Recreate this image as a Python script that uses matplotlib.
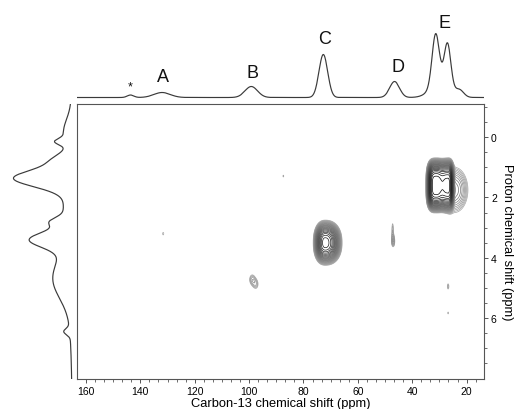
import numpy as np
import matplotlib
matplotlib.use("Agg")
import matplotlib.pyplot as plt
from matplotlib.ticker import FixedLocator, MultipleLocator, AutoMinorLocator

plt.rcParams["font.family"] = ["Liberation Sans", "DejaVu Sans"]

# ---- 13C projection (top): peak centre (ppm), height, width (ppm) ----
c13_pos = [143.6, 132.0, 99.2, 72.7, 46.5, 31.4, 27.0, 29.5, 22.5]
c13_hgt = [2.5, 5.0, 11.0, 43.0, 16.0, 50.0, 42.0, 16.0, 6.0]
c13_wid = [1.2, 3.0, 2.3, 1.6, 1.8, 1.3, 1.2, 3.5, 1.5]

# peak labels on the 13C projection
lab_text = ["*", "A", "B", "C", "D", "E"]
lab_x = [143.6, 131.7, 98.9, 72.2, 45.4, 28.2]
lab_y = [11.0, 20.5, 25.5, 58.5, 31.5, 75.5]

# ---- 1H projection (left): peak centre (ppm), height, width (ppm) ----
h1_pos = [1.36, 3.40, 2.80, 0.15, 0.75, 4.75, 6.45, 3.00, -0.20]
h1_hgt = [52.0, 33.0, 12.0, 10.0, 12.0, 13.0, 6.0, 9.0, 6.0]
h1_wid = [0.28, 0.25, 0.14, 0.10, 0.20, 0.60, 0.10, 2.00, 0.40]

# ---- 2D cross peaks ----
# 13C, 1H, amplitude, width to high ppm, width to low ppm, 1H width, shape power
xp_c = [31.4, 27.0, 24.5, 72.0, 47.0, 47.2, 98.9, 97.5, 26.8, 26.8, 131.6, 87.4]
xp_h = [1.60, 1.60, 1.75, 3.50, 3.45, 3.05, 4.72, 4.88, 4.95, 5.83, 3.20, 1.29]
xp_a = [100., 90., 8.0, 60., 4.0, 2.6, 3.2, 2.8, 2.6, 2.3, 2.3, 2.3]
xp_wl = [2.3, 2.4, 2.0, 2.6, 0.5, 0.35, 0.9, 0.9, 0.4, 0.3, 0.4, 0.3]
xp_wr = [2.4, 1.6, 3.0, 3.65, 0.5, 0.35, 0.9, 0.9, 0.4, 0.3, 0.4, 0.3]
xp_wh = [0.58, 0.58, 0.45, 0.44, 0.15, 0.25, 0.15, 0.15, 0.12, 0.06, 0.08, 0.06]
xp_p = [3, 3, 2, 2.3, 2, 2, 2, 2, 2, 2, 2, 2]

XLIM = (163.3, 13.6)
YLIM = (8.02, -1.1)


def spectrum(axis, pos, hgt, wid):
    out = np.zeros_like(axis)
    for p, h, w in zip(pos, hgt, wid):
        out += h * np.exp(-(axis - p) ** 2 / (2 * w ** 2))
    return out


fig = plt.figure(figsize=(5.23, 4.10), dpi=100)
W, H = 523.0, 410.0
ax = fig.add_axes([77 / W, 1 - 380 / H, 407 / W, 275 / H])
ax_top = fig.add_axes([77 / W, 1 - 103 / H, 407 / W, 98 / H])
ax_left = fig.add_axes([0, 1 - 380 / H, 74 / W, 275 / H])

# 2D contour map
cx = np.linspace(XLIM[1], XLIM[0], 1000)
hy = np.linspace(YLIM[1], YLIM[0], 800)
X, Y = np.meshgrid(cx, hy)
Z = np.zeros_like(X)
for c, h, a, wl, wr, wh, p in zip(xp_c, xp_h, xp_a, xp_wl, xp_wr, xp_wh, xp_p):
    wx = np.where(X > c, wl, wr)
    if p == 2:
        Z += a * np.exp(-(X - c) ** 2 / (2 * wx ** 2) - (Y - h) ** 2 / (2 * wh ** 2))
    else:
        Z += a * np.exp(-np.abs((X - c) / wx) ** p - np.abs((Y - h) / wh) ** p)

levels = 2.0 * 1.17 ** np.arange(26)
colors = plt.cm.Greys(np.linspace(0.45, 1.0, len(levels)))
ax.contour(X, Y, Z, levels=levels, colors=colors, linewidths=0.5)

ax.set_xlim(*XLIM)
ax.set_ylim(*YLIM)
ax.xaxis.set_major_locator(MultipleLocator(20))
ax.xaxis.set_minor_locator(AutoMinorLocator(6))
ax.yaxis.set_major_locator(FixedLocator([0, 2, 4, 6]))
ax.yaxis.set_minor_locator(FixedLocator([-1, -0.5, 0.5, 1, 1.5, 2.5, 3, 3.5,
                                         4.5, 5, 5.5, 6.5, 7, 7.5]))
ax.yaxis.tick_right()
ax.yaxis.set_label_position("right")
ax.tick_params(which="both", direction="out", color="#555555", labelsize=7.5, pad=2)
ax.tick_params(which="major", length=3, width=0.7)
ax.tick_params(which="minor", length=2, width=0.6)
for s in ax.spines.values():
    s.set_color("#555555")
    s.set_linewidth(0.8)
ax.set_xlabel("Carbon-13 chemical shift (ppm)", fontsize=9.3, labelpad=1)
ax.set_ylabel("Proton chemical shift (ppm)", fontsize=9.3, rotation=270, labelpad=12)

# top projection
cc = np.linspace(XLIM[1], XLIM[0], 1500)
ax_top.plot(cc, spectrum(cc, c13_pos, c13_hgt, c13_wid), color="#3a3a3a", lw=0.85)
ax_top.set_xlim(*XLIM)
ax_top.set_ylim(-4.5, 93.5)
ax_top.axis("off")
for t, x, y in zip(lab_text, lab_x, lab_y):
    ax_top.text(x, y, t, ha="center", va="center",
                fontsize=9 if t == "*" else 13, color="#111111")

# left projection
hh = np.linspace(YLIM[1], YLIM[0], 1000)
ax_left.plot(spectrum(hh, h1_pos, h1_hgt, h1_wid), hh, color="#3a3a3a", lw=0.85)
ax_left.set_xlim(72, -2)
ax_left.set_ylim(*YLIM)
ax_left.axis("off")

fig.savefig("out.png", dpi=100)
